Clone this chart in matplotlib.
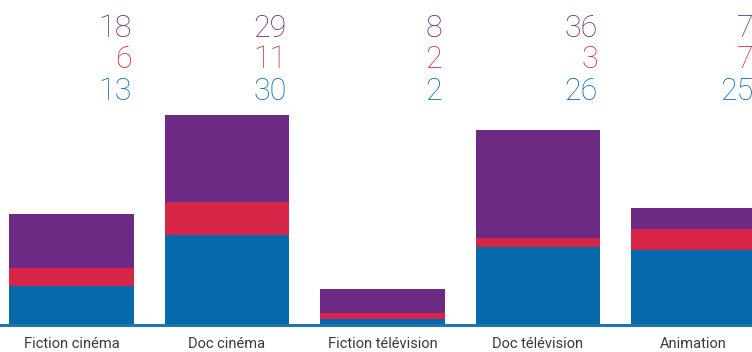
import matplotlib.pyplot as plt
import matplotlib.transforms as mtransforms

categories = ['Fiction cinéma', 'Doc cinéma', 'Fiction télévision', 'Doc télévision', 'Animation']
blue_vals = [13, 30, 2, 26, 25]
red_vals = [6, 11, 2, 3, 7]
purple_vals = [18, 29, 8, 36, 7]

BLUE = '#0569ab'
RED = '#d62547'
PURPLE = '#6d2a84'

fig = plt.figure(figsize=(7.52, 3.52), dpi=100)
ax = fig.add_axes([0, 27 / 352, 1, 325 / 352])

x = list(range(len(categories)))
width = 0.8
bottom_red = blue_vals
bottom_purple = [b + r for b, r in zip(blue_vals, red_vals)]

ax.bar(x, blue_vals, width=width, color=BLUE)
ax.bar(x, red_vals, width=width, bottom=bottom_red, color=RED)
ax.bar(x, purple_vals, width=width, bottom=bottom_purple, color=PURPLE)

# baseline across the whole width
ax.axhline(0, color='#1f74b3', linewidth=2.2, clip_on=False)

ax.set_xlim(-71.5 / 155.5, -71.5 / 155.5 + 752 / 155.5)
ax.set_ylim(0, 325 / 3)
ax.axis('off')

# value labels stacked above each column, right-aligned to the bar edge
trans = mtransforms.blended_transform_factory(ax.transData, fig.transFigure)
rows = [(purple_vals, PURPLE, 1 - 37 / 352),
        (red_vals, RED, 1 - 68 / 352),
        (blue_vals, BLUE, 1 - 100 / 352)]
for vals, color, ypos in rows:
    for xi, v in zip(x, vals):
        ax.text(xi + width / 2 - 0.015, ypos, str(v), transform=trans,
                ha='right', va='baseline', color=color, fontsize=22,
                family=['Roboto', 'DejaVu Sans'], fontweight='light')

# category names under the baseline
for xi, name in zip(x, categories):
    ax.text(xi, 1 - 348 / 352, name, transform=trans, ha='center', va='baseline',
            color='#3a3a3a', fontsize=10.5, family=['Roboto', 'DejaVu Sans'])

fig.savefig('out.png', dpi=100)
